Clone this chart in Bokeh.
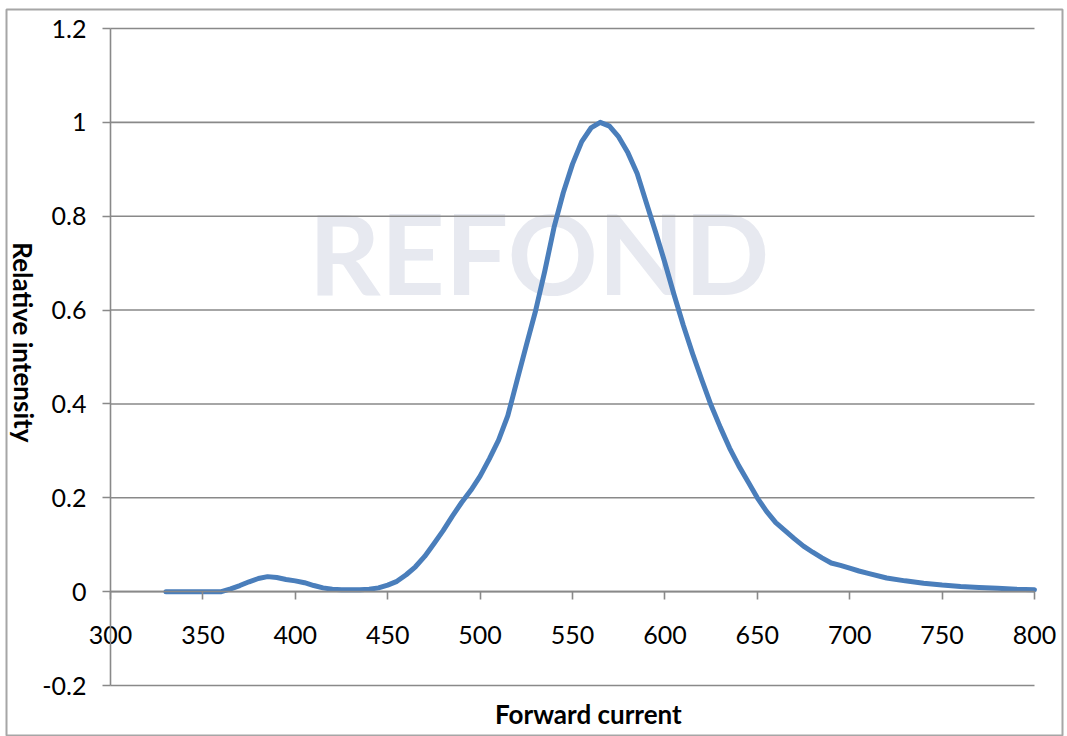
from bokeh.plotting import figure
from bokeh.models import Range1d, FixedTicker, Label, LinearAxis
from bokeh.embed import file_html
from bokeh.resources import INLINE

# ---- data ----
wavelength = [330, 340, 350, 360, 365, 370, 375, 380, 385, 390, 395, 400, 405, 410,
              415, 420, 425, 430, 435, 440, 445, 450, 455, 460, 465, 470, 475, 480,
              485, 490, 495, 500, 505, 510, 515, 520, 525, 530, 535, 540, 545, 550,
              555, 560, 565, 570, 575, 580, 585, 590, 595, 600, 605, 610, 615, 620,
              625, 630, 635, 640, 645, 650, 655, 660, 665, 670, 675, 680, 685, 690,
              695, 700, 705, 710, 720, 730, 740, 750, 760, 770, 780, 790, 800]
intensity = [0.000, 0.000, 0.000, 0.000, 0.006, 0.013, 0.021, 0.028, 0.032, 0.030,
             0.026, 0.023, 0.019, 0.013, 0.008, 0.005, 0.004, 0.004, 0.004, 0.005,
             0.008, 0.014, 0.022, 0.036, 0.053, 0.075, 0.102, 0.130, 0.161, 0.190,
             0.216, 0.246, 0.283, 0.323, 0.375, 0.450, 0.525, 0.598, 0.683, 0.776,
             0.850, 0.911, 0.959, 0.988, 1.000, 0.992, 0.969, 0.935, 0.891, 0.828,
             0.766, 0.701, 0.632, 0.567, 0.507, 0.451, 0.397, 0.350, 0.306, 0.268,
             0.234, 0.200, 0.171, 0.147, 0.130, 0.113, 0.097, 0.084, 0.072, 0.061,
             0.056, 0.050, 0.044, 0.039, 0.029, 0.023, 0.018, 0.014, 0.011, 0.009,
             0.007, 0.005, 0.004]

x_ticks = [300, 350, 400, 450, 500, 550, 600, 650, 700, 750, 800]
y_ticks = [-0.2, 0, 0.2, 0.4, 0.6, 0.8, 1.0, 1.2]
y_tick_labels = {-0.2: "-0.2", 0: "0", 0.2: "0.2", 0.4: "0.4", 0.6: "0.6",
                 0.8: "0.8", 1.0: "1", 1.2: "1.2"}
x_title = "Forward  current"
y_title = "Relative  intensity"
watermark = "REFOND"

# ---- layout (pixels) ----
W, H = 1064, 736
FRAME_L, FRAME_T, FRAME_R, FRAME_B = 6, 9, 1062, 736      # outer chart box
PLOT_L, PLOT_R, PLOT_T, PLOT_B = 110, 1034, 28, 685       # data box
X0, X1 = x_ticks[0], x_ticks[-1]
Y0, Y1 = y_ticks[0], y_ticks[-1]
sx = (PLOT_R - PLOT_L) / (X1 - X0)
sy = (PLOT_B - PLOT_T) / (Y1 - Y0)
x_start = X0 - (PLOT_L - FRAME_L) / sx
x_end = X1 + (FRAME_R - PLOT_R) / sx
y_end = Y1 + (PLOT_T - FRAME_T) / sy
y_start = Y0 - (FRAME_B - PLOT_B) / sy


def px_x(px):
    return X0 + (px - PLOT_L) / sx


def px_y(py):
    return Y1 - (py - PLOT_T) / sy


FONT = "Lato"
GRID = "#898989"

p = figure(width=W, height=H, output_backend="svg", toolbar_location=None,
           x_range=Range1d(x_start, x_end), y_range=Range1d(y_start, y_end),
           x_axis_location=None, y_axis_location=None,
           min_border_left=FRAME_L, min_border_right=W - FRAME_R,
           min_border_top=FRAME_T, min_border_bottom=H - FRAME_B)
p.outline_line_color = "#a6a6a6"
p.outline_line_width = 2
p.background_fill_color = "white"
p.border_fill_color = "white"
p.xgrid.visible = False
p.ygrid.visible = False

# watermark
p.add_layout(Label(x=px_x(308), y=px_y(251), text=watermark, text_font=FONT,
                   text_font_style="bold", text_font_size="112px",
                   text_color="#e7e9f0", text_baseline="alphabetic",
                   level="underlay"))

# horizontal gridlines at the y ticks, spanning the data box
n = len(y_ticks)
p.segment(x0=[X0] * n, x1=[X1] * n, y0=y_ticks, y1=y_ticks,
          line_color=GRID, line_width=1.6)

# x axis crossing at y = 0
xa = LinearAxis(fixed_location=0, bounds=(X0, X1),
                ticker=FixedTicker(ticks=x_ticks))
xa.axis_line_color = GRID
xa.axis_line_width = 1.6
xa.major_tick_line_color = GRID
xa.major_tick_line_width = 1.6
xa.major_tick_in = 0
xa.major_tick_out = 8
xa.minor_tick_line_color = None
xa.major_label_text_font = FONT
xa.major_label_text_font_size = "25px"
xa.major_label_text_color = "black"
xa.major_label_standoff = 26
p.add_layout(xa, "below")

# y axis at x = 300
ya = LinearAxis(fixed_location=X0, bounds=(Y0, Y1),
                ticker=FixedTicker(ticks=y_ticks))
ya.major_label_overrides = y_tick_labels
ya.axis_line_color = GRID
ya.axis_line_width = 1.6
ya.major_tick_line_color = GRID
ya.major_tick_line_width = 1.6
ya.major_tick_in = 0
ya.major_tick_out = 8
ya.minor_tick_line_color = None
ya.major_label_text_font = FONT
ya.major_label_text_font_size = "25px"
ya.major_label_text_color = "black"
ya.major_label_standoff = 16
p.add_layout(ya, "left")

# curve
p.line(wavelength, intensity, line_color="#4a7ebb", line_width=5,
       line_join="round", line_cap="round")

# axis titles
p.add_layout(Label(x=px_x(591), y=px_y(713), text=x_title, text_font=FONT,
                   text_font_style="bold", text_font_size="26px",
                   text_color="black", text_align="center",
                   text_baseline="middle"))
p.add_layout(Label(x=px_x(23), y=px_y(345), text=y_title, text_font=FONT,
                   text_font_style="bold", text_font_size="26px",
                   text_color="black", text_align="center",
                   text_baseline="middle", angle=-1.5707963))

open("out.html", "w").write(file_html(p, INLINE))
